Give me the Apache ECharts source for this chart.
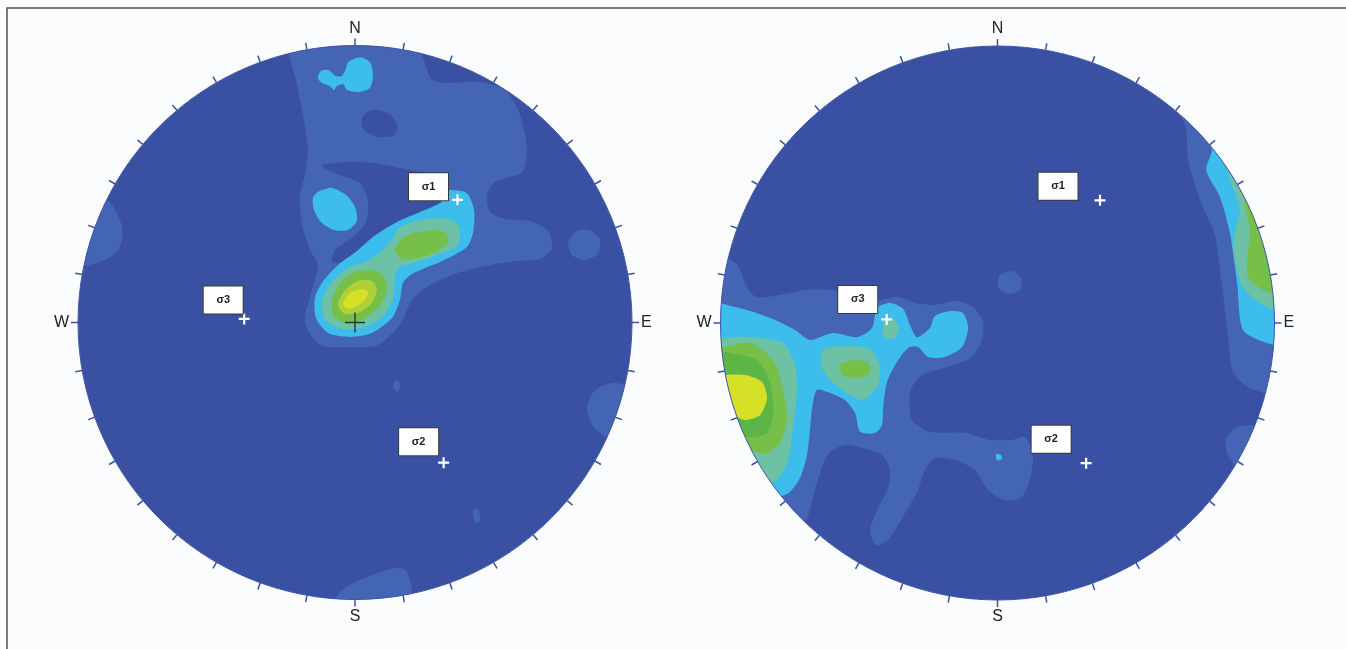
<!DOCTYPE html>
<html>
<head>
<meta charset="utf-8">
<title>Stereonets</title>
<script src="https://cdn.jsdelivr.net/npm/echarts@6/dist/echarts.min.js"></script>
<style>
  html, body { margin: 0; padding: 0; background: #FBFCFE; }
  #chart { width: 1346px; height: 649px; }
</style>
</head>
<body>
<div id="chart"></div>
<script>
// Projection coordinates: percent of the primitive-circle radius, x = east, y = north.
const AXIS_EXTENT = 100;
const CARDINALS = { 0: 'N', 90: 'E', 180: 'S', 270: 'W' };
const TICK_STEP = 10;

// Principal stress axes (same tensor plotted on both nets)
const SIGMA_NAMES = ['σ1', 'σ2', 'σ3'];
const SIGMA_POLES = [[37, 44.3], [32, -50.6], [-40, 1.3]];
const MEAN_POLE = [0, 0];

// ---- Left net: density contour polygons ----
const leftMediumNorth = [[-23.5,102],[-21.3,87.5],[-19.1,76.7],[-17.0,62.3],[-18.1,53.2],[-19.9,46.0],[-19.1,35.2],[-16.2,26.2],[-13.4,20.8],[-15.5,11.7],[-18.1,0.2],[-12.6,-8.1],[-1.1,-8.9],[8.3,-8.1],[16.2,-0.9],[20.6,8.1],[27.1,13.5],[37.9,18.2],[48.7,20.8],[57.8,22.2],[66.8,22.9],[71.1,26.9],[69.7,33.0],[63.2,36.6],[54.2,37.4],[48.7,39.9],[47.7,46.0],[50.5,50.7],[60.3,54.3],[62.1,62.3],[59.6,74.9],[54.2,83.9],[45.1,86.8],[28.2,87.5],[20.9,102.0]];
const leftHoleUpper = [[2.5,73.8],[6.1,76.7],[11.9,75.6],[15.2,71.7],[14.1,67.7],[8.3,67.0],[3.2,69.5]];
const leftHoleMiddle = [[-11.9,56.5],[-3.6,57.9],[7.2,57.6],[16.2,55.8],[23.5,54.3],[30.7,52.2],[33.6,48.6],[30.7,43.1],[23.5,38.8],[15.2,35.2],[7.9,31.2],[1.8,26.2],[-3.6,21.8],[-8.3,21.8],[-7.2,26.2],[-1.1,30.5],[4.0,36.3],[4.7,44.2],[1.8,50.4],[-5.4,53.2]];
const leftMediumWest = [[-92.1,46.0],[-87.7,42.4],[-84.8,37.0],[-83.8,31.6],[-85.6,26.2],[-90.3,22.6],[-99.3,20.8],[-102.9,33.4],[-95.7,46.0]];
const leftMediumEast = [[79.4,32.7],[84.8,33.4],[88.4,29.8],[87.7,24.7],[83.0,22.6],[78.3,24.4],[76.9,28.7]];
const leftMediumSouthEast = [[88.4,-23.3],[93.9,-21.8],[102.9,-24.4],[102.9,-44.2],[92.8,-42.4],[86.3,-38.1],[83.8,-31.6],[85.2,-26.2]];
const leftMediumSouth = [[-9.0,-103.8],[-5.4,-97.3],[0,-93.7],[7.2,-90.8],[14.4,-88.6],[18.1,-89.3],[19.9,-93.0],[20.9,-98.4],[22.0,-103.8]];
const leftSpotA = [[14.1,-21.1],[15.9,-21.1],[16.2,-23.6],[15.2,-25.1],[14.1,-24.0]];
const leftSpotB = [[43.3,-67.0],[44.8,-67.7],[45.1,-71.3],[43.7,-72.4],[42.6,-69.5]];
const leftCyanNorth = [[-2.5,94.0],[1.8,95.8],[5.4,94.0],[6.5,89.3],[5.4,84.7],[1.1,83.2],[-2.9,83.9],[-4.3,86.1],[-6.5,85.4],[-7.6,83.9],[-9.0,85.4],[-11.9,86.5],[-13.4,88.3],[-12.3,90.8],[-9.7,91.2],[-6.9,89.0],[-4.7,89.0],[-3.2,91.9]];
const leftCyanWest = [[-13.4,47.1],[-8.3,48.6],[-3.2,46.0],[0,41.7],[0.7,36.6],[-2.5,33.4],[-7.6,33.4],[-12.3,36.3],[-14.8,40.6],[-15.2,44.9]];
const leftCyanCluster = [[34.3,47.8],[40.4,46.7],[43.0,40.6],[42.6,32.3],[40.4,27.3],[30.7,21.8],[25.3,19.7],[19.9,17.1],[17.3,14.3],[16.2,8.1],[13.4,1.6],[6.1,-3.8],[-1.8,-5.2],[-9.7,-3.8],[-14.1,1.6],[-14.4,9.2],[-11.2,15.3],[-6.1,20.8],[0.7,25.8],[6.9,31.2],[15.2,36.3],[23.5,39.9],[30.7,43.1],[33.2,46.7]];
const leftTealCluster = [[15.5,33.8],[22.4,36.6],[30.7,37.7],[36.1,36.3],[37.9,33.4],[37.2,28.0],[30.7,24.7],[22.4,21.8],[15.5,19.7],[14.4,15.3],[13.7,8.8],[10.5,2.7],[3.6,-1.6],[-4.3,-2.3],[-10.8,0.9],[-11.9,8.1],[-8.3,14.6],[-2.5,19.7],[3.6,21.8],[9.0,25.1],[13.4,29.8]];
const leftGreenUpper = [[14.4,26.2],[17.3,30.5],[22.7,32.7],[29.6,33.4],[33.2,31.9],[33.2,28.3],[28.9,25.4],[22.7,23.3],[17.0,22.9]];
const leftGreenLower = [[-8.3,8.1],[-5.4,14.3],[0,18.2],[6.1,19.0],[10.8,16.1],[11.2,10.6],[8.3,5.2],[2.5,0.9],[-3.6,-0.2],[-7.9,2.7]];
const leftLimeCore = [[-6.1,6.3],[-3.6,11.7],[1.1,15.0],[6.1,15.0],[7.9,11.7],[6.1,7.0],[1.8,3.8],[-3.6,3.1]];
const leftYellowCore = [[-4.3,7.0],[-1.8,10.6],[2.5,12.1],[4.7,11.0],[3.6,8.1],[0,5.6],[-3.2,5.2]];

// ---- Right net: density contour polygons ----
const rightMediumWest = [[-103.1,26.4],[-98.0,23.8],[-93.7,20.6],[-90.8,13.7],[-87.2,9.4],[-78.5,10.1],[-69.5,11.9],[-60.5,11.9],[-51.4,9.4],[-43.1,8.3],[-35.9,9.4],[-29.8,7.2],[-22.6,6.5],[-15.3,7.9],[-9.2,6.1],[-5.2,0.4],[-6.0,-7.2],[-9.9,-12.6],[-19.0,-16.2],[-27.3,-18.8],[-31.6,-24.9],[-30.9,-35.0],[-24.4,-39.3],[-11.7,-39.7],[-2.7,-42.2],[5.2,-42.2],[9.9,-41.2],[12.8,-47.7],[11.7,-56.7],[8.8,-62.8],[2.7,-63.9],[-3.4,-60.3],[-8.1,-53.1],[-15.3,-49.5],[-22.6,-48.7],[-26.2,-53.1],[-28.7,-60.3],[-32.3,-66.8],[-35.9,-72.9],[-39.5,-78.3],[-43.9,-80.1],[-46.0,-74.7],[-43.1,-66.8],[-39.5,-59.6],[-38.8,-53.1],[-41.7,-47.7],[-48.9,-45.1],[-55.1,-44.0],[-60.5,-46.6],[-63.4,-52.3],[-65.9,-60.3],[-67.7,-67.5],[-69.1,-71.1],[-73.0,-76.0],[-82.0,-68.0],[-106.0,-27.8]];
const rightMediumSpot = [[0.9,17.3],[5.2,18.8],[8.5,16.2],[8.1,11.9],[3.8,10.5],[0.2,13.0]];
const rightMediumEast = [[64.1,80.5],[68.0,70.4],[68.8,58.8],[73.1,44.4],[78.5,31.8],[81.0,13.7],[83.2,-4.3],[85.0,-17.7],[91.1,-23.5],[100.2,-24.9],[109.2,8.3],[84.0,72.0]];
const rightMediumSouthEast = [[85.7,-37.9],[91.1,-36.8],[98.4,-38.6],[98.4,-54.9],[87.5,-53.1],[83.2,-47.7],[82.5,-42.2]];
const rightCyanWest = [[-103.1,8.3],[-100.2,7.2],[-89.3,4.3],[-80.3,1.1],[-73.1,-2.5],[-67.7,-6.1],[-59.4,-3.6],[-50.7,-5.1],[-45.3,-1.8],[-43.5,5.4],[-38.8,7.2],[-34.1,5.1],[-31.6,-0.7],[-29.1,-5.1],[-24.4,-1.8],[-22.6,2.5],[-17.1,4.3],[-12.5,3.6],[-10.6,-1.8],[-12.8,-8.7],[-19.0,-12.3],[-25.1,-12.3],[-28.7,-8.7],[-32.3,-9.0],[-36.3,-14.1],[-39.9,-21.3],[-41.3,-30.7],[-41.7,-36.8],[-44.2,-39.7],[-49.6,-39.3],[-51.4,-32.5],[-55.1,-27.8],[-60.5,-25.3],[-65.2,-24.2],[-67.0,-31.4],[-67.7,-38.6],[-68.8,-47.7],[-71.3,-56.0],[-74.9,-61.0],[-78.5,-62.8],[-84.0,-64.0],[-106.0,-27.8]];
const rightCyanSpot = [[-0.5,-47.3],[1.3,-47.7],[1.6,-49.1],[-0.2,-49.5]];
const rightCyanEast = [[74.9,69.7],[77.4,62.5],[75.3,55.2],[80.3,45.5],[83.9,32.5],[86.5,14.4],[88.6,-2.5],[97.3,-7.2],[105.6,-7.9],[104.0,30.0],[92.0,58.0]];
const rightTealWest = [[-103.1,-4.3],[-100.2,-5.1],[-88.3,-5.1],[-77.4,-7.2],[-73.1,-15.2],[-72.4,-24.2],[-73.8,-37.5],[-75.6,-49.5],[-79.2,-56.0],[-83.9,-58.5],[-106.0,-35.0]];
const rightTealMiddle = [[-63.0,-9.7],[-54.3,-8.3],[-46.0,-9.7],[-42.4,-15.9],[-43.5,-23.1],[-48.6,-27.8],[-54.3,-25.3],[-60.5,-20.6],[-63.4,-15.9]];
const rightTealSigma = [[-41.0,0.4],[-37.0,1.1],[-35.6,-2.5],[-37.7,-5.8],[-41.0,-4.7]];
const rightTealEast = [[83.2,56.0],[87.5,40.8],[85.0,28.9],[88.6,13.0],[97.3,5.8],[105.6,4.7],[104.0,30.0],[92.0,55.0]];
const rightGreenWest = [[-103.1,-7.9],[-99.5,-8.7],[-89.3,-7.2],[-81.0,-13.4],[-77.4,-24.2],[-76.0,-35.0],[-78.5,-43.3],[-83.2,-46.9],[-90.1,-45.8],[-100.2,-42.2]];
const rightGreenMiddle = [[-56.9,-15.2],[-51.4,-13.4],[-46.7,-14.4],[-46.0,-18.1],[-51.1,-19.9],[-56.1,-18.8]];
const rightGreenEast = [[89.3,46.2],[91.1,33.6],[90.4,16.6],[98.4,10.8],[105.6,10.8],[100.0,45.0]];
const rightDeepGreenWest = [[-100.2,-10.5],[-96.6,-10.8],[-86.8,-13.4],[-82.1,-21.7],[-81.0,-32.5],[-83.2,-39.7],[-89.3,-41.2],[-96.6,-37.9]];
const rightYellowWest = [[-99.5,-19.5],[-91.1,-18.8],[-85.0,-21.3],[-83.2,-27.1],[-85.7,-33.2],[-91.1,-35.0],[-94.8,-33.2],[-97.3,-27.8]];

// Drawing order: lower density first, higher density on top
const leftLayers = [
  ['medium', leftMediumNorth], ['dark', leftHoleUpper], ['dark', leftHoleMiddle],
  ['medium', leftMediumWest], ['medium', leftMediumEast], ['medium', leftMediumSouthEast],
  ['medium', leftMediumSouth], ['medium', leftSpotA], ['medium', leftSpotB],
  ['cyan', leftCyanNorth], ['cyan', leftCyanWest], ['cyan', leftCyanCluster],
  ['teal', leftTealCluster], ['green', leftGreenUpper], ['green', leftGreenLower],
  ['lime', leftLimeCore], ['yellow', leftYellowCore]
];
const rightLayers = [
  ['medium', rightMediumWest], ['medium', rightMediumSpot], ['medium', rightMediumEast],
  ['medium', rightMediumSouthEast], ['cyan', rightCyanWest], ['cyan', rightCyanSpot],
  ['cyan', rightCyanEast], ['teal', rightTealWest], ['teal', rightTealMiddle],
  ['teal', rightTealSigma], ['teal', rightTealEast], ['green', rightGreenWest],
  ['green', rightGreenMiddle], ['green', rightGreenEast], ['deepGreen', rightDeepGreenWest],
  ['yellow', rightYellowWest]
];

const PALETTE = {
  dark: '#3A50A2', medium: '#4465B3', cyan: '#3CBDEB', teal: '#6DC1A5',
  green: '#76BF48', lime: '#AFD137', deepGreen: '#5DB547', yellow: '#D6E026'
};
const PAGE_BG = '#FBFCFE';
const RIM = '#3D53A4';

// Layout of the two nets
const RADIUS = 277;
const NETS = [
  { cx: 355, cy: 322.5, layers: leftLayers, showMean: true,
    labelOffsets: [[-29, -13], [-25, -21], [-21, -19]] },
  { cx: 997.5, cy: 323, layers: rightLayers, showMean: false,
    labelOffsets: [[-42, -14], [-35, -24], [-29, -20]] }
];

const CROSS = 'path://M4,0H6V4H10V6H6V10H4V6H0V4H4Z';
const THIN_CROSS = 'path://M9.3,0H10.7V9.3H20V10.7H10.7V20H9.3V10.7H0V9.3H9.3Z';

const grid = [], xAxis = [], yAxis = [], polar = [], angleAxis = [], radiusAxis = [], series = [];

NETS.forEach((net, i) => {
  grid.push({ left: net.cx - RADIUS, top: net.cy - RADIUS, width: 2 * RADIUS, height: 2 * RADIUS });
  xAxis.push({ gridIndex: i, type: 'value', min: -AXIS_EXTENT, max: AXIS_EXTENT, show: false });
  yAxis.push({ gridIndex: i, type: 'value', min: -AXIS_EXTENT, max: AXIS_EXTENT, show: false });
  polar.push({ center: [net.cx, net.cy], radius: RADIUS });
  radiusAxis.push({ polarIndex: i, type: 'value', min: 0, max: 1, show: false });
  angleAxis.push({
    polarIndex: i, type: 'value', min: 0, max: 360, interval: TICK_STEP,
    startAngle: 90, clockwise: true, z: 10,
    axisLine: { show: true, lineStyle: { color: RIM, width: 1 } },
    axisTick: { show: true, length: 7, lineStyle: { color: RIM, width: 1.5 } },
    axisLabel: {
      show: true, margin: 9, color: '#222', fontSize: 16,
      fontFamily: '"Liberation Sans", Arial, sans-serif',
      formatter: v => (v < 360 && CARDINALS[v]) || ''
    },
    splitLine: { show: false }
  });

  // primitive circle
  series.push({
    type: 'custom', xAxisIndex: i, yAxisIndex: i, z: 0, silent: true, animation: false,
    data: [MEAN_POLE],
    renderItem: (params, api) => {
      const c = api.coord(MEAN_POLE);
      const r = api.size([AXIS_EXTENT, 0])[0];
      return { type: 'circle', shape: { cx: c[0], cy: c[1], r: r }, style: { fill: PALETTE.dark } };
    }
  });

  // density contours
  series.push({
    type: 'custom', xAxisIndex: i, yAxisIndex: i, z: 1, silent: true, animation: false,
    data: net.layers.map(() => [0, 0]),
    renderItem: (params, api) => {
      const layer = net.layers[params.dataIndex];
      return {
        type: 'polygon',
        shape: { points: layer[1].map(p => api.coord(p)), smooth: 0.25 },
        style: { fill: PALETTE[layer[0]] }
      };
    }
  });

  // trims contours to the primitive circle
  series.push({
    type: 'custom', xAxisIndex: i, yAxisIndex: i, z: 3, silent: true, animation: false,
    data: [MEAN_POLE],
    renderItem: (params, api) => {
      const c = api.coord(MEAN_POLE);
      const r = api.size([AXIS_EXTENT, 0])[0];
      return { type: 'ring', shape: { cx: c[0], cy: c[1], r: r + 60, r0: r }, style: { fill: PAGE_BG } };
    }
  });

  // principal stress axes with their tags
  series.push({
    type: 'scatter', xAxisIndex: i, yAxisIndex: i, z: 5, silent: true, animation: false,
    symbol: CROSS, symbolSize: 11,
    itemStyle: { color: '#FFFFFF', opacity: 1 },
    label: {
      show: true, position: 'inside', formatter: '{b}',
      backgroundColor: '#FFFFFF', borderColor: '#3a3a3a', borderWidth: 1,
      width: 25, height: 13, padding: [7, 7], align: 'center', verticalAlign: 'middle',
      color: '#222', fontSize: 11, fontWeight: 'bold',
      fontFamily: '"Liberation Sans", Arial, sans-serif'
    },
    data: SIGMA_POLES.map((p, k) => ({
      name: SIGMA_NAMES[k], value: p, label: { offset: net.labelOffsets[k] }
    }))
  });

  if (net.showMean) {
    series.push({
      type: 'scatter', xAxisIndex: i, yAxisIndex: i, z: 5, silent: true, animation: false,
      symbol: THIN_CROSS, symbolSize: 20, itemStyle: { color: '#20383A', opacity: 1 },
      data: [MEAN_POLE]
    });
  }
});

const chart = echarts.init(document.getElementById('chart'), null, { renderer: 'canvas' });
chart.setOption({
  backgroundColor: PAGE_BG,
  animation: false,
  grid, xAxis, yAxis, polar, angleAxis, radiusAxis, series,
  graphic: [{
    type: 'polyline', z: 100, silent: true,
    shape: { points: [[7, 649], [7, 8], [1346, 8]] },
    style: { stroke: '#505050', lineWidth: 1.5, fill: null }
  }]
});
</script>
</body>
</html>
